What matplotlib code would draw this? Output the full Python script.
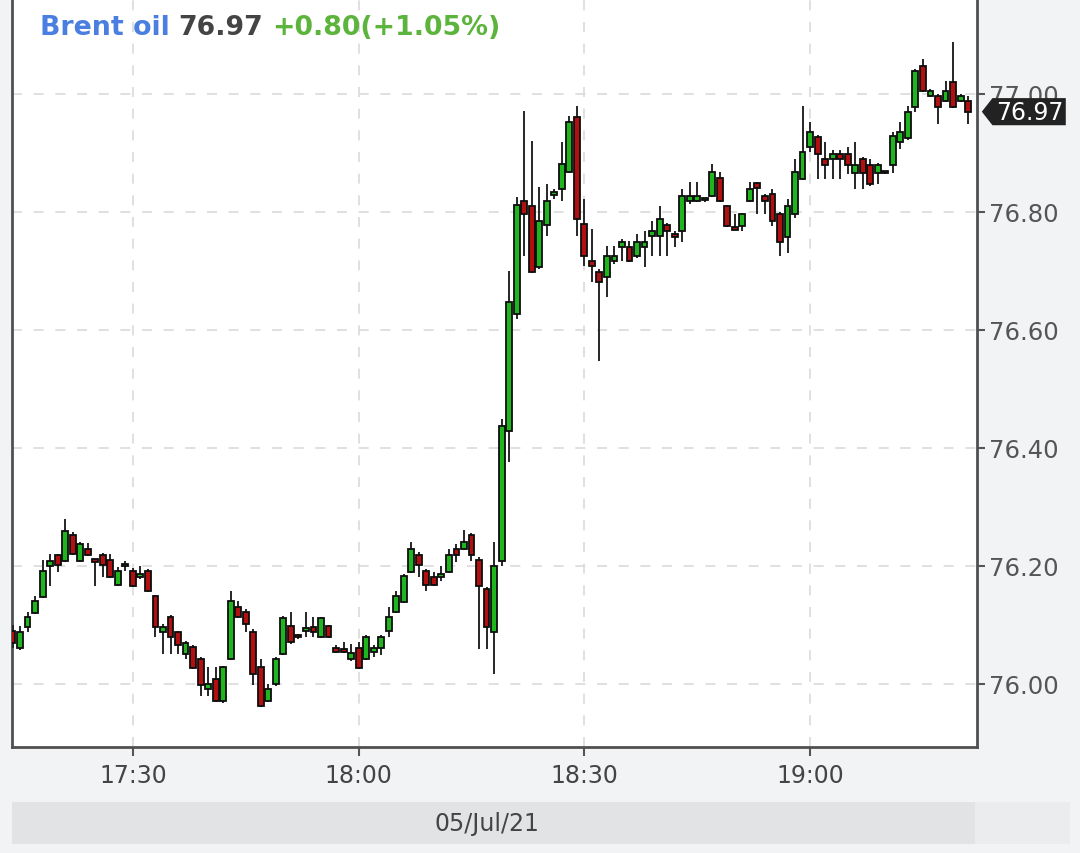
import matplotlib
matplotlib.use("Agg")
import matplotlib.pyplot as plt
import matplotlib.dates as mdates
from matplotlib.patches import Polygon, Rectangle
import numpy as np
import pandas as pd

plt.rcParams["font.family"] = ["DejaVu Sans"]

# ---- data (1-minute candles, 05/Jul/21 17:14 .. 19:21) ----
start_time = "2021-07-05 17:14"
opens = [
    76.090, 76.061, 76.097, 76.120, 76.147, 76.200, 76.219, 76.208, 76.253, 76.208,
    76.229, 76.209, 76.219, 76.210, 76.168, 76.199, 76.192, 76.182, 76.192, 76.149,
    76.088, 76.114, 76.088, 76.051, 76.063, 76.042, 75.992, 76.008, 75.971, 76.042,
    76.131, 76.122, 76.088, 76.029, 75.971, 76.000, 76.051, 76.098, 76.081, 76.090,
    76.097, 76.080, 76.098, 76.061, 76.059, 76.042, 76.061, 76.042, 76.054, 76.061,
    76.090, 76.122, 76.139, 76.190, 76.219, 76.192, 76.181, 76.181, 76.190, 76.229,
    76.229, 76.253, 76.210, 76.161, 76.088, 76.208, 76.429, 76.627, 76.819, 76.810,
    76.707, 76.778, 76.829, 76.839, 76.868, 76.961, 76.780, 76.717, 76.698, 76.690,
    76.717, 76.741, 76.741, 76.725, 76.741, 76.759, 76.759, 76.778, 76.760, 76.768,
    76.819, 76.819, 76.820, 76.827, 76.858, 76.810, 76.772, 76.776, 76.819, 76.849,
    76.827, 76.831, 76.797, 76.758, 76.797, 76.856, 76.910, 76.927, 76.890, 76.890,
    76.898, 76.898, 76.866, 76.890, 76.880, 76.866, 76.867, 76.880, 76.919, 76.925,
    76.978, 77.047, 76.997, 76.997, 76.988, 77.020, 76.988, 76.988,
]
highs = [
    76.100, 76.098, 76.122, 76.149, 76.210, 76.220, 76.220, 76.280, 76.258, 76.241,
    76.239, 76.212, 76.222, 76.220, 76.198, 76.208, 76.196, 76.200, 76.194, 76.151,
    76.102, 76.117, 76.090, 76.072, 76.066, 76.045, 76.029, 76.029, 76.031, 76.158,
    76.141, 76.127, 76.093, 76.042, 76.000, 76.046, 76.115, 76.122, 76.085, 76.122,
    76.114, 76.114, 76.100, 76.066, 76.071, 76.068, 76.071, 76.083, 76.066, 76.083,
    76.131, 76.158, 76.186, 76.241, 76.224, 76.195, 76.190, 76.200, 76.229, 76.237,
    76.261, 76.256, 76.215, 76.164, 76.241, 76.449, 76.700, 76.825, 76.971, 76.920,
    76.842, 76.847, 76.839, 76.919, 76.963, 76.980, 76.822, 76.771, 76.703, 76.742,
    76.742, 76.754, 76.751, 76.763, 76.768, 76.785, 76.810, 76.782, 76.768, 76.839,
    76.851, 76.851, 76.822, 76.881, 76.868, 76.812, 76.797, 76.799, 76.851, 76.851,
    76.830, 76.839, 76.800, 76.822, 76.890, 76.980, 76.953, 76.930, 76.919, 76.905,
    76.905, 76.910, 76.919, 76.893, 76.890, 76.883, 76.870, 76.936, 76.953, 76.980,
    77.042, 77.059, 77.008, 77.000, 77.022, 77.088, 77.000, 76.997,
]
lows = [
    76.060, 76.058, 76.088, 76.118, 76.145, 76.166, 76.190, 76.206, 76.218, 76.206,
    76.217, 76.166, 76.181, 76.179, 76.166, 76.192, 76.164, 76.178, 76.156, 76.080,
    76.051, 76.051, 76.051, 76.042, 76.025, 75.980, 75.980, 75.969, 75.968, 76.040,
    76.112, 76.088, 75.998, 75.961, 75.969, 75.997, 76.049, 76.068, 76.076, 76.080,
    76.080, 76.078, 76.078, 76.052, 76.052, 76.039, 76.025, 76.040, 76.046, 76.049,
    76.080, 76.120, 76.137, 76.188, 76.181, 76.158, 76.166, 76.175, 76.188, 76.207,
    76.227, 76.208, 76.059, 76.059, 76.017, 76.200, 76.376, 76.619, 76.725, 76.696,
    76.703, 76.759, 76.822, 76.819, 76.866, 76.759, 76.708, 76.681, 76.547, 76.656,
    76.712, 76.717, 76.715, 76.722, 76.707, 76.725, 76.725, 76.725, 76.741, 76.749,
    76.814, 76.817, 76.817, 76.825, 76.817, 76.774, 76.769, 76.768, 76.817, 76.797,
    76.797, 76.776, 76.725, 76.730, 76.790, 76.854, 76.902, 76.856, 76.856, 76.856,
    76.856, 76.864, 76.839, 76.839, 76.844, 76.847, 76.864, 76.866, 76.907, 76.922,
    76.969, 77.003, 76.995, 76.949, 76.986, 76.976, 76.986, 76.949,
]
closes = [
    76.070, 76.088, 76.114, 76.141, 76.192, 76.208, 76.202, 76.259, 76.220, 76.237,
    76.219, 76.207, 76.202, 76.181, 76.192, 76.201, 76.166, 76.184, 76.158, 76.097,
    76.097, 76.080, 76.066, 76.069, 76.027, 75.998, 76.000, 75.971, 76.029, 76.141,
    76.114, 76.102, 76.017, 75.963, 75.992, 76.042, 76.112, 76.071, 76.079, 76.092,
    76.088, 76.112, 76.080, 76.054, 76.054, 76.053, 76.027, 76.080, 76.061, 76.080,
    76.114, 76.149, 76.183, 76.229, 76.202, 76.168, 76.168, 76.186, 76.219, 76.219,
    76.241, 76.219, 76.166, 76.097, 76.200, 76.437, 76.647, 76.812, 76.797, 76.698,
    76.785, 76.819, 76.832, 76.881, 76.953, 76.788, 76.725, 76.708, 76.681, 76.725,
    76.725, 76.749, 76.717, 76.749, 76.749, 76.768, 76.788, 76.768, 76.758, 76.827,
    76.827, 76.827, 76.821, 76.868, 76.819, 76.776, 76.770, 76.797, 76.839, 76.841,
    76.819, 76.785, 76.749, 76.810, 76.868, 76.902, 76.936, 76.898, 76.880, 76.898,
    76.890, 76.880, 76.880, 76.866, 76.847, 76.880, 76.866, 76.929, 76.936, 76.969,
    77.039, 77.005, 77.005, 76.978, 77.005, 76.978, 76.997, 76.969,
]
y_ticks = [76.00, 76.20, 76.40, 76.60, 76.80, 77.00]
y_ticklabels = ["76.00", "76.20", "76.40", "76.60", "76.80", "77.00"]
last_price = 76.97
title_name = "Brent oil"
title_price = "76.97"
title_change = "+0.80(+1.05%)"
date_label = "05/Jul/21"

# ---- figure ----
BG = "#f2f3f5"
fig = plt.figure(figsize=(10.8, 8.54), dpi=100, facecolor=BG)
ax = fig.add_axes([12 / 1080, 106 / 854, 965 / 1080, 748 / 854])
ax.set_facecolor("white")

times = pd.date_range(start_time, periods=len(opens), freq="min")
x = mdates.date2num(times.to_pydatetime())
o = np.array(opens); h = np.array(highs); l = np.array(lows); c = np.array(closes)
up = c >= o
GREEN = "#1fb51f"
RED = "#b01010"
colors = np.where(up, GREEN, RED)
w = 0.78 / 1440.0

ax.vlines(x, l, h, color="#262626", lw=1.4, zorder=3)
bottoms = np.minimum(o, c)
heights = np.maximum(np.abs(c - o), 0.004)
ax.bar(x, heights, width=w, bottom=bottoms, color=colors, edgecolor="#0d0d0d",
       linewidth=1.3, zorder=4)

# axes limits
x0 = mdates.date2num(pd.Timestamp("2021-07-05 17:13:56"))
x1 = mdates.date2num(pd.Timestamp("2021-07-05 19:22:11"))
ax.set_xlim(x0, x1)
ax.set_ylim(75.893, 77.161)

# grid
ax.grid(True, color="#dadada", linestyle=(0, (6, 7)), linewidth=1.2, zorder=0)

# ticks
ax.xaxis.set_major_locator(mdates.MinuteLocator(byminute=[0, 30]))
ax.xaxis.set_major_formatter(mdates.DateFormatter("%H:%M"))
ax.yaxis.tick_right()
ax.set_yticks(y_ticks)
ax.set_yticklabels(y_ticklabels)
ax.tick_params(axis="y", which="both", direction="out", length=6, width=1.5,
               color="#555555", labelcolor="#555555", labelsize=17.5, pad=3)
ax.tick_params(axis="x", which="both", direction="out", length=6.5, width=1.5,
               color="#555555", labelcolor="#444444", labelsize=17, pad=5)

for side in ["left", "bottom", "right"]:
    ax.spines[side].set_color("#505050")
    ax.spines[side].set_linewidth(2.0)
ax.spines["top"].set_visible(False)

# price tag on the right
trans = matplotlib.transforms.blended_transform_factory(ax.transAxes, ax.transData)
dy = 0.023
tag = Polygon([[1.005, last_price], [1.016, last_price + dy], [1.092, last_price + dy],
               [1.092, last_price - dy], [1.016, last_price - dy]],
              closed=True, transform=trans, facecolor="#222222", edgecolor="none",
              clip_on=False, zorder=10)
ax.add_patch(tag)
ax.text(1.055, last_price, f"{last_price:.2f}", transform=trans, color="white",
        fontsize=17, ha="center", va="center", clip_on=False, zorder=11)

# title
t1 = fig.text(40 / 1080, 1 - 28 / 854, title_name, color="#4a7ee0", fontsize=19.3,
              fontweight="bold", va="center", ha="left")
a2 = ax.annotate(title_price, xy=(1, 0.5), xycoords=t1, xytext=(9, 0),
                 textcoords="offset pixels", color="#444444", fontsize=19.3,
                 fontweight="bold", va="center", ha="left", annotation_clip=False)
a3 = ax.annotate(title_change, xy=(1, 0.5), xycoords=a2, xytext=(9, 0),
                 textcoords="offset pixels", color="#5cb43c", fontsize=19.3,
                 fontweight="bold", va="center", ha="left", annotation_clip=False)

# date band
fig.patches.append(Rectangle((12 / 1080, 9 / 854), 963 / 1080, 42 / 854,
                             transform=fig.transFigure, facecolor="#e2e3e5",
                             edgecolor="none", zorder=0))
fig.patches.append(Rectangle((975 / 1080, 9 / 854), 95 / 1080, 42 / 854,
                             transform=fig.transFigure, facecolor="#ebecee",
                             edgecolor="none", zorder=0))
fig.text(487 / 1080, 1 - 824 / 854, date_label, color="#444444", fontsize=17,
         ha="center", va="center")

fig.savefig("out.png", dpi=100, facecolor=BG)
